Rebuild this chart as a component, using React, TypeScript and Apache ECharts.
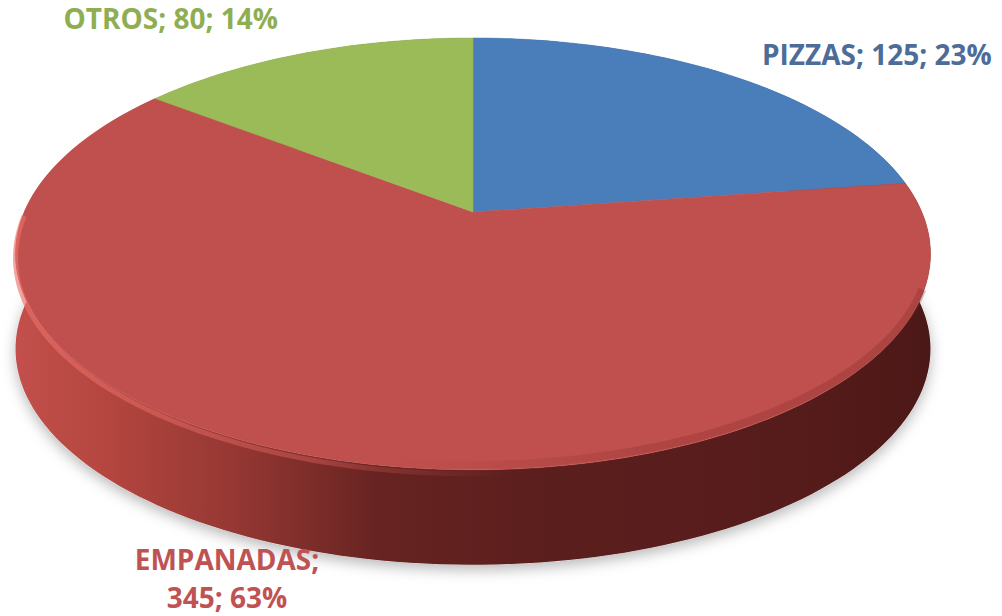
import React, { useEffect, useRef } from "react";
import * as echarts from "echarts";

// ---- data ----
const categories = ["PIZZAS", "EMPANADAS", "OTROS"];
const values = [125, 345, 80];
const percentLabels = [23, 63, 14];

// ---- styles / layout ----
const topColors = ["#4a7ebb", "#c0504d", "#9bbb59"];
const labelColors = ["#4d6c98", "#bf5253", "#8fae52"];
const wallStops = [
  [
    [0, "#3b6394"],
    [1, "#243f60"],
  ],
  [
    [0, "#c24f4b"],
    [0.1, "#b4463f"],
    [0.24, "#953733"],
    [0.4, "#662321"],
    [0.6, "#5a1e1d"],
    [0.85, "#561c1b"],
    [1, "#4c1817"],
  ],
  [
    [0, "#7d9a45"],
    [1, "#5a7030"],
  ],
];
const labelX = [762, 227, 278];
const labelY = [54, 578, 18];
const labelAlign = ["left", "center", "right"];
const labelWrap = [false, true, false];

// projection of the tilted disc
const CX = 473;
const CY = 212;
const RA = 448.8;
const RB = 207.8;
const PERSP = 0.194;
const DEPTH = 95;

function proj(theta: number, dy: number): number[] {
  const u = Math.sin(theta);
  const v = -Math.cos(theta);
  const d = 1 - PERSP * v;
  return [CX + (RA * u) / d, CY + (RB * v) / d + dy];
}

function arc(a0: number, a1: number, dy: number): number[][] {
  const n = Math.max(2, Math.ceil(((a1 - a0) / (2 * Math.PI)) * 240));
  const pts: number[][] = [];
  for (let k = 0; k <= n; k++) pts.push(proj(a0 + ((a1 - a0) * k) / n, dy));
  return pts;
}

const total = values.reduce((s, v) => s + v, 0);
const startAngles: number[] = [];
const endAngles: number[] = [];
{
  let acc = 0;
  values.forEach((v) => {
    startAngles.push((acc / total) * Math.PI * 2);
    acc += v;
    endAngles.push((acc / total) * Math.PI * 2);
  });
}

export default function App() {
  const ref = useRef<HTMLDivElement>(null);
  useEffect(() => {
    if (!ref.current) return;
    const chart = echarts.init(ref.current, null, { renderer: "svg" });
    const data = values.map((v, i) => ({ value: v, name: categories[i] }));

    const wallRender = (params: any) => {
      const i = params.dataIndex;
      const a0 = startAngles[i];
      const a1 = endAngles[i];
      const top = arc(a0, a1, 0);
      const bottom = arc(a0, a1, DEPTH).reverse();
      const children: any[] = [];
      if (i === 0) {
        children.push({
          type: "polygon",
          z2: 0,
          shape: { points: arc(0, Math.PI * 2, DEPTH) },
          style: {
            fill: "#e8e8e8",
            shadowBlur: 14,
            shadowColor: "rgba(0,0,0,0.28)",
            shadowOffsetY: 5,
          },
        });
      }
      children.push({
        type: "polygon",
        z2: 1,
        shape: { points: top.concat(bottom) },
        style: {
          fill: new echarts.graphic.LinearGradient(
            0,
            0,
            1,
            0,
            wallStops[i].map((s: any) => ({ offset: s[0], color: s[1] }))
          ),
        },
      });
      return { type: "group", children };
    };

    const topRender = (params: any) => {
      const i = params.dataIndex;
      const a0 = startAngles[i];
      const a1 = endAngles[i];
      const pts = [[CX, CY]].concat(arc(a0, a1, 0));
      const children: any[] = [
        {
          type: "polygon",
          shape: { points: pts },
          style: { fill: topColors[i], stroke: topColors[i], lineWidth: 0.5 },
        },
      ];
      if (i === 1) {
        // bevel highlight along the front-left rim
        const hl = arc(Math.PI * 0.98, Math.PI * 1.5, 4);
        children.push({
          type: "polyline",
          shape: { points: hl },
          style: {
            fill: "none",
            lineWidth: 5,
            opacity: 0.7,
            stroke: new echarts.graphic.LinearGradient(0, 0, 1, 0, [
              { offset: 0, color: "rgba(236,112,106,0.9)" },
              { offset: 0.6, color: "rgba(226,100,96,0.6)" },
              { offset: 1, color: "rgba(200,80,77,0)" },
            ]),
          },
        });
        // soft shading at the front-right rim
        const sh = arc(Math.PI * 0.62, Math.PI * 1.05, -5);
        children.push({
          type: "polyline",
          shape: { points: sh },
          style: {
            fill: "none",
            lineWidth: 8,
            opacity: 0.3,
            stroke: new echarts.graphic.LinearGradient(0, 0, 1, 0, [
              { offset: 0, color: "rgba(120,35,33,0)" },
              { offset: 0.5, color: "rgba(120,35,33,0.8)" },
              { offset: 1, color: "rgba(120,35,33,0.9)" },
            ]),
          },
        });
      }
      const text =
        categories[i] +
        ";" +
        (labelWrap[i] ? "\n" : " ") +
        values[i] +
        "; " +
        percentLabels[i] +
        "%";
      children.push({
        type: "text",
        style: {
          text,
          x: labelX[i],
          y: labelY[i],
          fill: labelColors[i],
          fontFamily: "Open Sans",
          fontWeight: "bold",
          fontSize: 28,
          lineHeight: 38,
          align: labelAlign[i],
          verticalAlign: "middle",
        },
      });
      return { type: "group", children };
    };

    chart.setOption({
      animation: false,
      backgroundColor: "#ffffff",
      series: [
        {
          type: "custom",
          name: "walls",
          coordinateSystem: "none",
          z: 1,
          silent: true,
          data,
          renderItem: wallRender,
        },
        {
          type: "custom",
          name: "tops",
          coordinateSystem: "none",
          z: 2,
          silent: true,
          data,
          renderItem: topRender,
        },
      ],
    });
    return () => chart.dispose();
  }, []);
  return (
    <div
      ref={ref}
      style={{ position: "fixed", left: 0, top: 0, width: 1002, height: 616 }}
    />
  );
}
